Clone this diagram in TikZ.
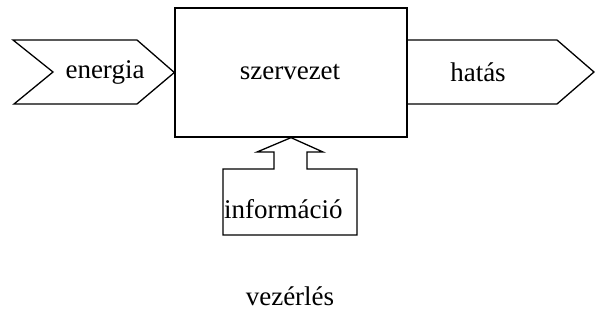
\documentclass[tikz,border=0pt]{standalone}
\usepackage{fontspec}
\setmainfont{Liberation Serif}
\begin{document}
\begin{tikzpicture}[x=1pt,y=-1pt,
  shp/.style={draw=black,line width=1.3pt,line join=miter},
  lbl/.style={font=\fontsize{27}{30}\selectfont,inner sep=0pt}]
\useasboundingbox (0,0) rectangle (595,327);
% main box
\node[shp,minimum width=232pt,minimum height=129pt,inner sep=0pt] (sz) at (291,72.5) {};
\node[lbl] (szt) at (290,72) {szervezet};
% energia chevron
\draw[shp] (13,40) -- (137,40) -- (sz.west) -- (137,104) -- (14,104) -- (53,72) -- cycle;
\node[lbl] (en) at (105,72) {energia};
% hatás arrow
\draw[shp] (sz.east |- 0,40) -- (557,40) -- (594,72) -- (557,104) -- (sz.east |- 0,104);
\node[lbl] (ha) at (478,72) {hatás};
% információ box with up arrow
\draw[shp] (sz.south) -- (323,152) -- (307,152) -- (307,169) -- (357,169) -- (357,235) -- (223,235) -- (223,169) -- (274,169) -- (274,152) -- (257,152) -- cycle;
\node[lbl,anchor=base west] (inf) at (224,218) {információ};
\node[lbl] (vez) at (290,296) {vezérlés};
\end{tikzpicture}
\end{document}
